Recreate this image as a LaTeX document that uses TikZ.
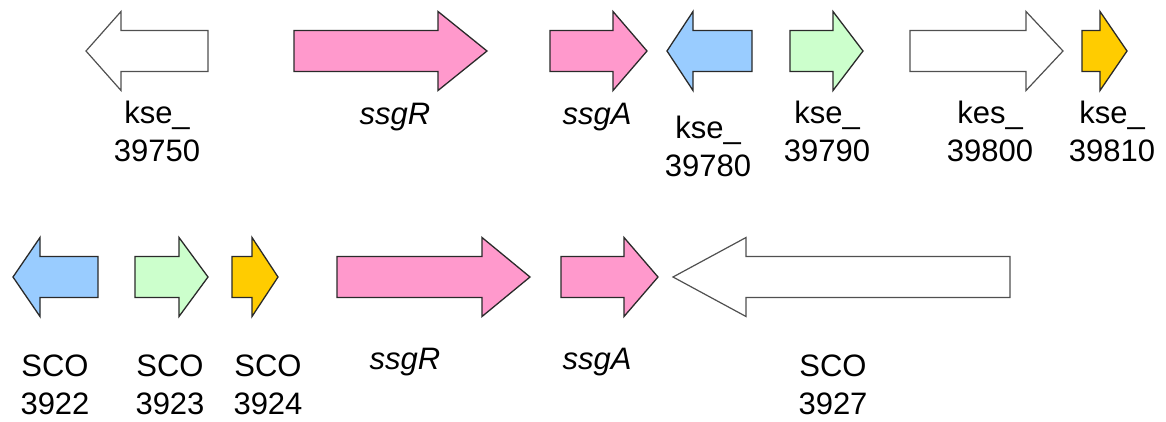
\documentclass[tikz,border=0pt]{standalone}
\usepackage{fontspec}
\setmainfont{Liberation Sans}
\definecolor{gpink}{HTML}{FF99CC}
\definecolor{gblue}{HTML}{99CCFF}
\definecolor{ggreen}{HTML}{CCFFCC}
\definecolor{gyellow}{HTML}{FFCC00}
\definecolor{edgedark}{HTML}{2A2A2A}
\definecolor{edgegray}{HTML}{505050}
% right-pointing gene arrow: left x, tip x, head length, centre y
\newcommand\geneRight[5]{%
  \draw[#5] (#1,{#4-20.5}) -- ({#2-#3},{#4-20.5}) -- ({#2-#3},{#4-39.5}) -- (#2,#4)
    -- ({#2-#3},{#4+39.5}) -- ({#2-#3},{#4+20.5}) -- (#1,{#4+20.5}) -- cycle;}
% left-pointing gene arrow: tip x, right x, head length, centre y
\newcommand\geneLeft[5]{%
  \draw[#5] (#2,{#4-20.5}) -- ({#1+#3},{#4-20.5}) -- ({#1+#3},{#4-39.5}) -- (#1,#4)
    -- ({#1+#3},{#4+39.5}) -- ({#1+#3},{#4+20.5}) -- (#2,{#4+20.5}) -- cycle;}
\tikzset{
  genefill/.style={fill=#1, draw=edgedark, line width=1.3pt, line join=miter},
  geneopen/.style={fill=white, draw=edgegray, line width=1.2pt, line join=miter},
  lbl/.style={anchor=base, align=center, font=\fontsize{31}{38}\selectfont, inner sep=0pt},
  ilbl/.style={lbl, font=\fontsize{31}{38}\selectfont\itshape}
}
\begin{document}
\begin{tikzpicture}[x=1pt,y=-1pt]
\useasboundingbox (0,0) rectangle (1166,421);
% top row
\geneLeft{86}{208}{35}{51}{geneopen}
\geneRight{294}{487}{49}{51}{genefill=gpink}
\geneRight{550}{647}{34}{51}{genefill=gpink}
\geneLeft{667}{752}{26}{51}{genefill=gblue}
\geneRight{790}{863}{30}{51}{genefill=ggreen}
\geneRight{910}{1063}{37}{51}{geneopen}
\geneRight{1082}{1127}{27}{51}{genefill=gyellow}
% bottom row
\geneLeft{13}{98}{27}{277}{genefill=gblue}
\geneRight{135}{208}{29}{277}{genefill=ggreen}
\geneRight{232}{278}{26}{277}{genefill=gyellow}
\geneRight{337}{530}{48}{277}{genefill=gpink}
\geneRight{561}{658}{34}{277}{genefill=gpink}
\geneLeft{673}{1010}{73}{277}{geneopen}
% labels top (anchor = baseline of the last line)
\node[lbl] (t1) at (157,161) {kse\_\\39750};
\node[ilbl] (t2) at (395,124) {ssgR};
\node[ilbl] (t3) at (597,124) {ssgA};
\node[lbl] (t4) at (708,176) {kse\_\\39780};
\node[lbl] (t5) at (827,161) {kse\_\\39790};
\node[lbl] (t6) at (990,161) {kes\_\\39800};
\node[lbl] (t7) at (1112,161) {kse\_\\39810};
% labels bottom
\node[lbl] (b1) at (55,414) {SCO\\3922};
\node[lbl] (b2) at (170,414) {SCO\\3923};
\node[lbl] (b3) at (268,414) {SCO\\3924};
\node[ilbl] (b4) at (405,369) {ssgR};
\node[ilbl] (b5) at (597,369) {ssgA};
\node[lbl] (b6) at (833,414) {SCO\\3927};
\end{tikzpicture}
\end{document}
